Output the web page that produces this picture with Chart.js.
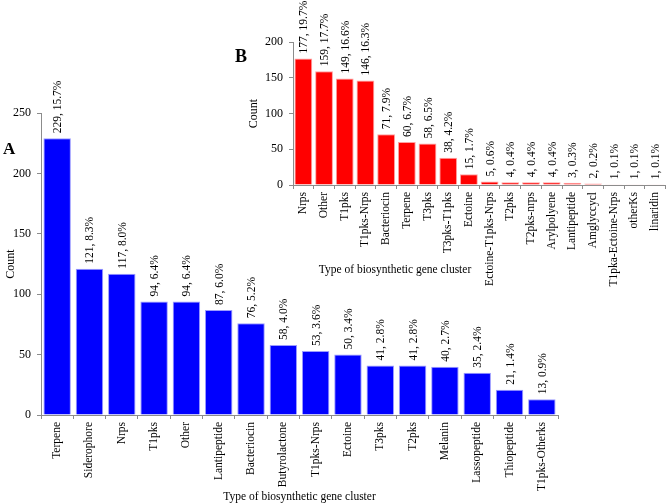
<!DOCTYPE html>
<html>
<head>
<meta charset="utf-8">
<script src="https://cdn.jsdelivr.net/npm/chart.js@4.4.1/dist/chart.umd.min.js"></script>
<style>
  body { margin: 0; background: #fff; }
  #wrap { position: relative; width: 672px; height: 504px; }
  canvas { position: absolute; left: 0; top: 0; }
</style>
</head>
<body>
<div id="wrap">
  <canvas id="graficoA" width="672" height="504"></canvas>
  <canvas id="graficoB" width="672" height="504"></canvas>
</div>
<script>
// dados do painel A
var categoriasA = ["Terpene", "Siderophore", "Nrps", "T1pks", "Other", "Lantipeptide", "Bacteriocin",
  "Butyrolactone", "T1pks-Nrps", "Ectoine", "T3pks", "T2pks", "Melanin", "Lassopeptide",
  "Thiopeptide", "T1pks-Otherks"];
var contagemA = [229, 121, 117, 94, 94, 87, 76, 58, 53, 50, 41, 41, 40, 35, 21, 13];
var percentA = [15.7, 8.3, 8.0, 6.4, 6.4, 6.0, 5.2, 4.0, 3.6, 3.4, 2.8, 2.8, 2.7, 2.4, 1.4, 0.9];
var ticksA = [0, 50, 100, 150, 200, 250];

// dados do painel B
var categoriasB = ["Nrps", "Other", "T1pks", "T1pks-Nrps", "Bacteriocin", "Terpene", "T3pks",
  "T3pks-T1pks", "Ectoine", "Ectoine-T1pks-Nrps", "T2pks", "T2pks-nrps", "Arylpolyene",
  "Lantipeptide", "Amglyccycl", "T1pka-Ectoine-Nrps", "otherKs", "linaridin"];
var contagemB = [177, 159, 149, 146, 71, 60, 58, 38, 15, 5, 4, 4, 4, 3, 2, 1, 1, 1];
var percentB = [19.7, 17.7, 16.6, 16.3, 7.9, 6.7, 6.5, 4.2, 1.7, 0.6, 0.4, 0.4, 0.4, 0.3, 0.2, 0.1, 0.1, 0.1];
var ticksB = [0, 50, 100, 150, 200];

var fonte = '"Liberation Serif", "Times New Roman", serif';
var tam = 11.5;
var cinza = "#8c8c8c";

function rotulos(contagem, percent) {
  return contagem.map(function (v, i) { return v + ", " + percent[i].toFixed(1) + "%"; });
}

// plugin: rotulos verticais em cima das barras + letra do painel
var rotulosBarras = {
  id: "rotulosBarras",
  afterDatasetsDraw: function (chart, args, opts) {
    var ctx = chart.ctx;
    var meta = chart.getDatasetMeta(0);
    ctx.save();
    ctx.fillStyle = "#000";
    ctx.font = tam + "px " + fonte;
    ctx.textAlign = "left";
    ctx.textBaseline = "middle";
    meta.data.forEach(function (barra, i) {
      ctx.save();
      ctx.translate(barra.x + 1, barra.y - 5);
      ctx.rotate(-Math.PI / 2);
      ctx.fillText(opts.textos[i], 0, 0);
      ctx.restore();
    });
    ctx.font = "bold " + opts.tamLetra + "px " + fonte;
    ctx.fillText(opts.letra, opts.letraX, opts.letraY);
    if (opts.tituloX) {
      ctx.font = tam + "px " + fonte;
      ctx.textAlign = "center";
      ctx.fillText(opts.tituloX, opts.tituloXx, opts.tituloXy);
    }
    ctx.restore();
  }
};

function montarGrafico(id, categorias, contagem, percent, ticks, cor, borda, conf) {
  var graf = document.getElementById(id).getContext("2d");
  return new Chart(graf, {
    type: "bar",
    data: {
      labels: categorias,
      datasets: [
        {
          label: "Count",
          data: contagem,
          backgroundColor: cor,
          borderColor: borda,
          borderWidth: 1,
          barPercentage: conf.barPct,
          categoryPercentage: 1.0
        }
      ]
    },
    options: {
      responsive: false,
      animation: false,
      layout: { padding: conf.padding },
      plugins: {
        legend: { display: false },
        title: { display: false },
        tooltip: { enabled: false },
        rotulosBarras: conf.rotulos
      },
      scales: {
        x: {
          border: { color: cinza, width: 1 },
          grid: { display: true, drawOnChartArea: false, drawTicks: true, tickLength: 4, color: cinza },
          ticks: {
            autoSkip: false, minRotation: 90, maxRotation: 90, padding: 3,
            color: "#000", font: { family: fonte, size: tam }
          },
          title: conf.tituloX,
          afterFit: function (scale) { scale.height = conf.alturaX; }
        },
        y: {
          min: 0,
          max: ticks[ticks.length - 1],
          afterBuildTicks: function (scale) {
            scale.ticks = ticks.map(function (v) { return { value: v }; });
          },
          border: { color: cinza, width: 1 },
          grid: { display: true, drawOnChartArea: false, drawTicks: true, tickLength: 4, color: cinza },
          ticks: { padding: 6, color: "#000", font: { family: fonte, size: 12 } },
          title: {
            display: true, text: "Count", color: "#000",
            font: { family: fonte, size: 12 }, padding: { top: 4, bottom: 0 }
          },
          afterFit: function (scale) { scale.width = conf.larguraY; }
        }
      }
    },
    plugins: [rotulosBarras]
  });
}

// grafico A
montarGrafico("graficoA", categoriasA, contagemA, percentA, ticksA, "#0000ff", "#9c9cff", {
  barPct: 0.85,
  padding: { left: 0, top: 113, right: 114, bottom: 0 },
  larguraY: 41,
  alturaX: 89,
  tituloX: {
    display: true, text: "Type of biosynthetic gene cluster", color: "#000",
    font: { family: fonte, size: tam }, padding: { top: 0, bottom: 0 }
  },
  rotulos: { textos: rotulos(contagemA, percentA), letra: "A", tamLetra: 17, letraX: 3, letraY: 150 }
});

// grafico B
montarGrafico("graficoB", categoriasB, contagemB, percentB, ticksB, "#ff0000", "#ffa0a0", {
  barPct: 0.86,
  padding: { left: 243, top: 42, right: 1, bottom: 199 },
  larguraY: 50,
  alturaX: 120,
  tituloX: { display: false },
  rotulos: {
    textos: rotulos(contagemB, percentB), letra: "B", tamLetra: 18, letraX: 235, letraY: 57,
    tituloX: "Type of biosynthetic gene cluster", tituloXx: 395, tituloXy: 270
  }
});
</script>
</body>
</html>
